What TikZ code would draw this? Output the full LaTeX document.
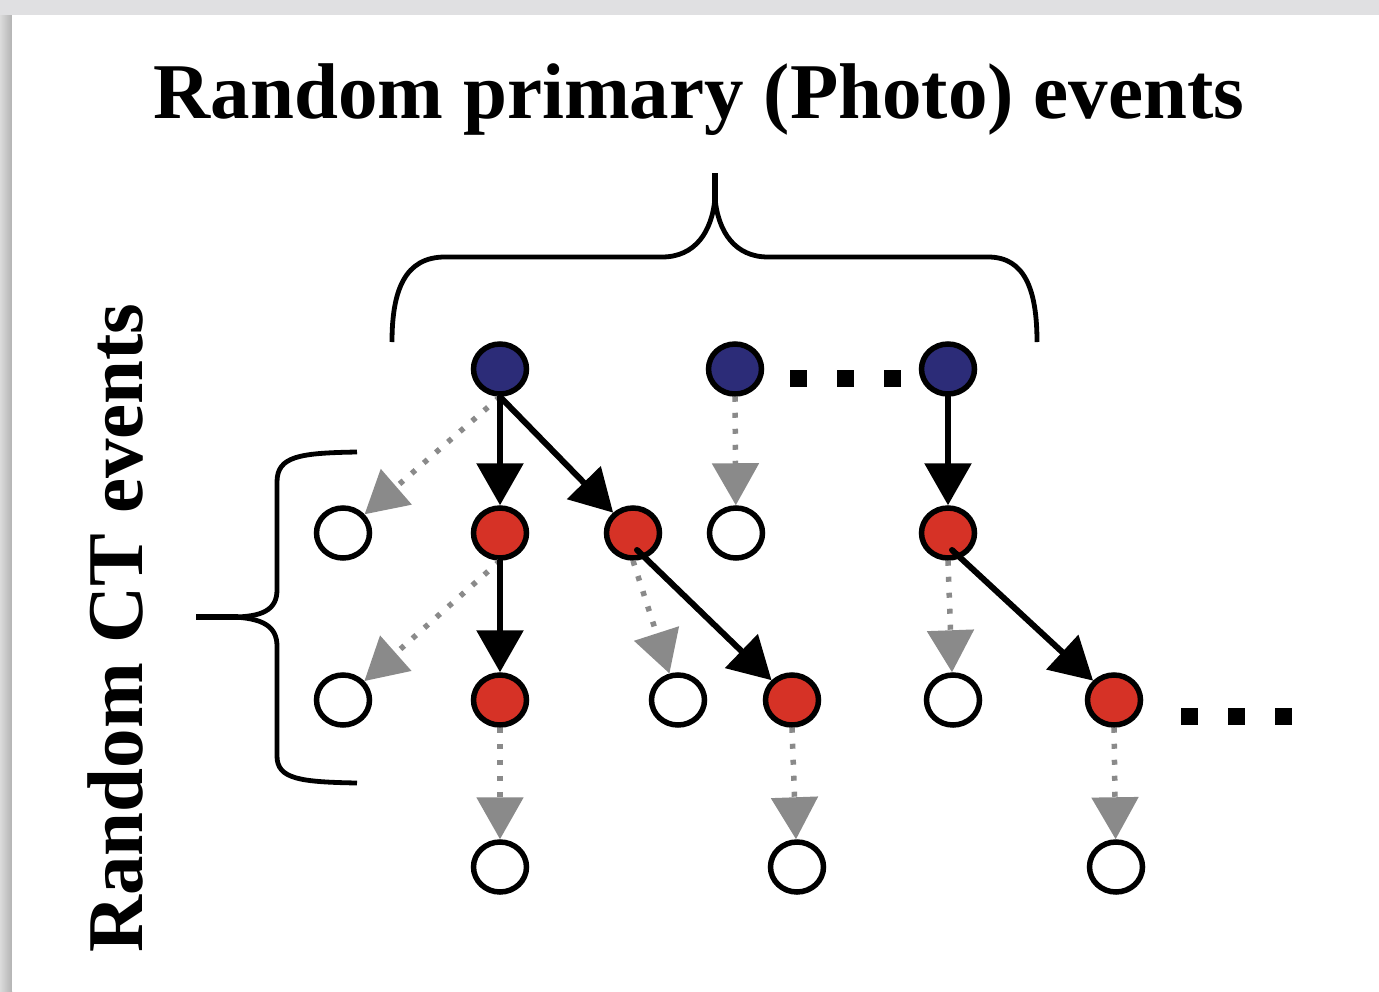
\documentclass[tikz,border=0pt]{standalone}
\usepackage{fontspec}
\setmainfont{Liberation Serif}
\usetikzlibrary{arrows.meta,shapes.geometric,calc}

\definecolor{evblue}{RGB}{44,44,120}
\definecolor{evred}{RGB}{214,50,38}
\definecolor{evgray}{RGB}{138,138,138}
\definecolor{framegray}{RGB}{224,224,226}

\tikzset{
  evt/.style={ellipse, draw=black, line width=5.5pt, minimum width=53pt,
              minimum height=50pt, inner sep=0pt},
  photo/.style={evt, fill=evblue},
  hit/.style={evt, fill=evred},
  miss/.style={evt, fill=white},
  solidarr/.style={line width=6pt, line cap=round, black,
                   -{Triangle[length=42pt,width=46pt]}},
  dotarr/.style={line width=5.5pt, evgray, dash pattern=on 5pt off 11pt,
                 -{Triangle[length=42pt,width=46pt]}},
  brace/.style={line width=4.8pt, black, line join=round},
  dotsq/.style={rectangle, fill=black, minimum size=17pt, inner sep=0pt},
  label/.style={font=\fontsize{79}{90}\selectfont\bfseries, inner sep=0pt}
}

\begin{document}
\begin{tikzpicture}[x=1pt,y=-1pt]
  % page and its frame
  \useasboundingbox (0,0) rectangle (1379,991);
  \fill[framegray] (0,0) rectangle (1379,991);
  \shade[left color=black!14, right color=black!30] (0,15) rectangle (12,991);
  \fill[white] (12,15) rectangle (1379,991);

  % titles
  \node[label, anchor=base] (title) at (699,118) {Random primary (Photo) events};
  \node[label, anchor=base, rotate=90] (side) at (142,628) {Random CT events};

  % braces
  \draw[brace] (392,342) .. controls (392,290) and (405,257) .. (445,257)
     -- (662,257) .. controls (695,257) and (712,232) .. (715,198);
  \draw[brace] (715,198) .. controls (718,232) and (735,257) .. (768,257)
     -- (988,257) .. controls (1025,257) and (1037,290) .. (1037,342);
  \draw[line width=6pt] (715,202) -- (715,173);

  \draw[brace] (357,452) .. controls (300,453) and (277,456) .. (277,482)
     -- (277,590) .. controls (277,610) and (262,617) .. (232,617);
  \draw[brace] (232,617) .. controls (262,618) and (277,626) .. (277,646)
     -- (277,756) .. controls (277,779) and (300,782) .. (357,783);
  \draw[line width=6pt] (238,617) -- (196,617);

  % primary events
  \node[photo] (p1) at (500,369) {};
  \node[photo] (p2) at (735,369) {};
  \node[photo] (p3) at (948,369) {};

  % first generation
  \node[miss] (a1) at (343,533) {};
  \node[hit]  (a2) at (500,533) {};
  \node[hit]  (a3) at (633,533) {};
  \node[miss] (a4) at (736,533) {};
  \node[hit]  (a5) at (948,533) {};

  % second generation
  \node[miss] (b1) at (343,700) {};
  \node[hit]  (b2) at (500,700) {};
  \node[miss] (b3) at (678,700) {};
  \node[hit]  (b4) at (792,700) {};
  \node[miss] (b5) at (953,700) {};
  \node[hit]  (b6) at (1114,700) {};

  % third generation
  \node[miss] (c1) at (500,867) {};
  \node[miss] (c2) at (797,867) {};
  \node[miss] (c3) at (1116,867) {};

  % ellipsis marks
  \node[dotsq] (d1) at (798,378) {};
  \node[dotsq] (d2) at (845,378) {};
  \node[dotsq] (d3) at (892,378) {};
  \node[dotsq] (e1) at (1189,716) {};
  \node[dotsq] (e2) at (1236,716) {};
  \node[dotsq] (e3) at (1283,716) {};

  % unsuccessful transfers
  \draw[dotarr] (p1.south) -- (a1);
  \draw[dotarr] (p2.south) -- (a4);
  \draw[dotarr] (a2.south) -- (b1);
  \draw[dotarr] (a3.south) -- (b3);
  \draw[dotarr] (a5.south) -- (b5);
  \draw[dotarr] (b2.south) -- (c1);
  \draw[dotarr] (b4.south) -- (c2);
  \draw[dotarr] (b6.south) -- (c3);

  % successful transfers
  \draw[solidarr] (p1.south) -- (a2);
  \draw[solidarr] (p1.south) -- (a3);
  \draw[solidarr] (a2.south) -- (b2);
  \draw[solidarr] (p3.south) -- (a5);
  \draw[solidarr] ($(a3)+(4,17)$) -- (b4);
  \draw[solidarr] ($(a5)+(4,17)$) -- (b6);
\end{tikzpicture}
\end{document}
